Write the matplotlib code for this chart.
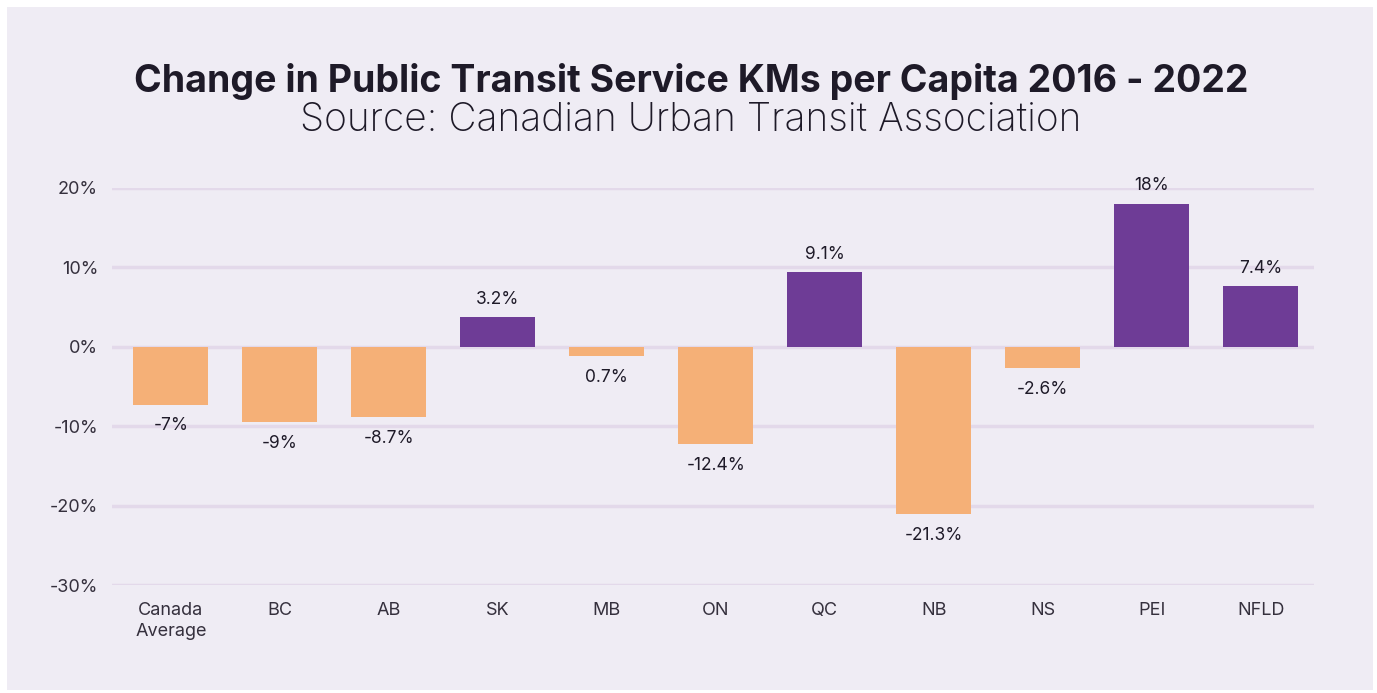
import matplotlib.pyplot as plt
from matplotlib.patches import Rectangle

# ------------------------
# Data
# ------------------------
regions = ["Canada\nAverage", "BC", "AB", "SK", "MB", "ON", "QC", "NB", "NS", "PEI", "NFLD"]
change = [-7.3, -9.5, -8.9, 3.7, -1.2, -12.3, 9.4, -21.1, -2.7, 18.0, 7.6]
labels = ["-7%", "-9%", "-8.7%", "3.2%", "0.7%", "-12.4%", "9.1%", "-21.3%", "-2.6%", "18%", "7.4%"]

BG = "#efecf4"
GRID = "#e3d9ea"
ORANGE = "#f5b077"
PURPLE = "#6e3c96"
TEXT = "#1e1a28"

plt.rcParams["font.family"] = ["Inter", "DejaVu Sans"]

fig = plt.figure(figsize=(13.77, 6.93), dpi=100, facecolor="white")
fig.patches.append(Rectangle((7 / 1377, 3 / 693), 1366 / 1377, 683 / 693,
                             transform=fig.transFigure, facecolor=BG,
                             edgecolor="none", zorder=-10))

ax = fig.add_axes([112 / 1377, 1 - 585 / 693, (1314 - 112) / 1377, (585 - 188) / 693])
ax.set_facecolor("none")
ax.set_zorder(2)

x = range(len(regions))
colors = [PURPLE if v > 0 else ORANGE for v in change]
ax.bar(x, change, width=0.69, color=colors, zorder=3)

for i, (v, lab) in enumerate(zip(change, labels)):
    if v >= 0:
        ax.text(i, v + 1.2, lab, ha="center", va="bottom", fontsize=12.5, color=TEXT)
    else:
        ax.text(i, v - 1.6, lab, ha="center", va="top", fontsize=12.5, color=TEXT)

ax.set_ylim(-30, 20)
ax.set_xlim(-0.54, 10.49)
ax.set_yticks([-30, -20, -10, 0, 10, 20])
ax.set_yticklabels([f"{t}%" for t in [-30, -20, -10, 0, 10, 20]])
ax.set_xticks(list(x))
ax.set_xticklabels(regions, linespacing=1.3)
ax.tick_params(axis="both", length=0, labelsize=13, labelcolor="#35303d")
ax.tick_params(axis="y", pad=10)
ax.tick_params(axis="x", pad=12)
ax.grid(axis="y", color=GRID, linewidth=2.5, zorder=0)
for s in ax.spines.values():
    s.set_visible(False)

fig.text(691 / 1377, 1 - 82 / 693, "Change in Public Transit Service KMs per Capita 2016 - 2022",
         ha="center", va="center", fontsize=27, fontweight="bold", color=TEXT)
fig.text(691 / 1377, 1 - 120 / 693, "Source: Canadian Urban Transit Association",
         ha="center", va="center", fontsize=28, fontweight="light", color=TEXT)

plt.savefig("out.png", dpi=100, facecolor="white")
